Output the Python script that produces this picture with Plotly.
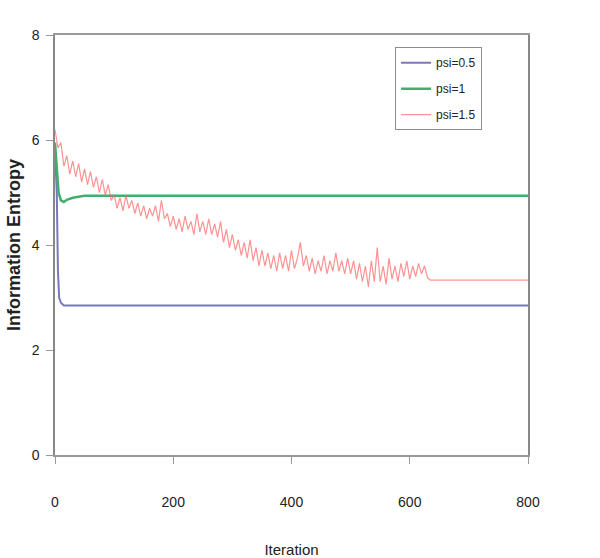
import plotly.graph_objects as go

# psi = 0.5
iter_a = [0, 3, 5, 7, 10, 15, 800]
ent_a = [5.8, 5.0, 3.5, 3.0, 2.9, 2.85, 2.85]

# psi = 1
iter_b = [0, 3, 6, 10, 15, 20, 30, 50, 800]
ent_b = [5.95, 5.5, 5.0, 4.85, 4.82, 4.86, 4.9, 4.94, 4.94]

# psi = 1.5
iter_c = list(range(0, 640, 5)) + [800]
ent_c = [6.2, 5.85, 5.95, 5.5, 5.7, 5.35, 5.6, 5.3, 5.55, 5.2,
         5.45, 5.15, 5.4, 5.1, 5.3, 5.0, 5.25, 4.95, 5.15, 4.85,
         4.95, 4.7, 4.9, 4.65, 4.95, 4.7, 4.85, 4.6, 4.8, 4.55,
         4.75, 4.5, 4.7, 4.55, 4.75, 4.45, 4.85, 4.5, 4.6, 4.35,
         4.55, 4.3, 4.5, 4.25, 4.55, 4.3, 4.45, 4.2, 4.6, 4.25,
         4.45, 4.2, 4.5, 4.2, 4.4, 4.15, 4.45, 4.05, 4.3, 3.95,
         4.2, 3.9, 4.1, 3.8, 4.05, 3.75, 4.1, 3.7, 3.95, 3.6,
         3.9, 3.6, 3.85, 3.55, 3.8, 3.5, 3.85, 3.55, 3.8, 3.5,
         3.9, 3.55, 3.75, 4.05, 3.6, 3.8, 3.5, 3.75, 3.45, 3.7,
         3.5, 3.8, 3.45, 3.7, 3.5, 3.85, 3.5, 3.7, 3.45, 3.75,
         3.45, 3.7, 3.35, 3.65, 3.3, 3.6, 3.2, 3.7, 3.3, 3.95,
         3.3, 3.6, 3.25, 3.75, 3.35, 3.6, 3.3, 3.65, 3.4, 3.7,
         3.35, 3.6, 3.4, 3.65, 3.45, 3.6, 3.38, 3.33, 3.33]

x_ticks = [0, 200, 400, 600, 800]
y_ticks = [0, 2, 4, 6, 8]

narrow = "Liberation Sans Narrow, Arial Narrow, Liberation Sans, Arial, sans-serif"

fig = go.Figure()
fig.add_trace(go.Scatter(x=iter_a, y=ent_a, mode="lines", name="psi=0.5",
                         legendgroup="a",
                         line=dict(color="#7878bd", width=2)))
fig.add_trace(go.Scatter(x=iter_b, y=ent_b, mode="lines", name="psi=1",
                         legendgroup="b",
                         line=dict(color="#3fae6e", width=2.5)))
fig.add_trace(go.Scatter(x=iter_c, y=ent_c, mode="lines", name="psi=1.5",
                         legendgroup="c",
                         line=dict(color="rgba(255,100,100,0.7)", width=1.2)))

fig.update_layout(
    width=600, height=558,
    margin=dict(l=55, r=72, t=35, b=103),
    paper_bgcolor="white", plot_bgcolor="white",
    showlegend=True,
    legend=dict(x=0.719, y=0.971, xanchor="left", yanchor="top",
                bordercolor="#8c8c8c", borderwidth=1, bgcolor="white",
                font=dict(family=narrow, size=12, color="#222"),
                tracegroupgap=7, itemwidth=30),
    xaxis=dict(range=[0, 800], tickvals=x_ticks, ticks="outside", ticklen=7,
               tickcolor="#999", tickwidth=1,
               ticklabelstandoff=26, automargin=False,
               showgrid=False, zeroline=False,
               showline=True, linecolor="#999", linewidth=1.5, mirror=True,
               tickfont=dict(family=narrow, size=14, color="#222"),
               title=dict(text="Iteration", standoff=36,
                          font=dict(family=narrow, size=15, color="#222"))),
    yaxis=dict(range=[0, 8], tickvals=y_ticks, ticks="outside", ticklen=7,
               tickcolor="#999", tickwidth=1,
               ticklabelstandoff=4, automargin=False,
               showgrid=False, zeroline=False,
               showline=True, linecolor="#888", linewidth=1.5, mirror=True,
               tickfont=dict(family=narrow, size=14, color="#222"),
               title=dict(text="<b>Information Entropy</b>", standoff=6,
                          font=dict(family="Liberation Sans, Arial, sans-serif",
                                    size=18, color="#222"))),
)

fig.write_html("out.html")
